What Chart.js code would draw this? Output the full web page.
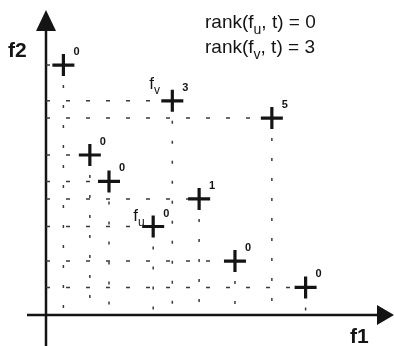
<!DOCTYPE html>
<html>
<head>
<meta charset="utf-8">
<script src="https://cdn.jsdelivr.net/npm/chart.js@4/dist/chart.umd.min.js"></script>
<style>
  body { margin: 0; background: #fff; }
  canvas { display: block; }
</style>
</head>
<body>
<canvas id="myChart" width="394" height="346"></canvas>
<script>
/* Data (arbitrary objective units) */
var f1Values = [0.50, 3.63, 6.49, 1.26, 1.81, 4.40, 3.08, 5.43, 7.46];
var f2Values = [8.25, 7.07, 6.50, 5.28, 4.41, 3.83, 2.92, 1.78, 0.91];
var ranks = [0, 3, 5, 0, 0, 1, 0, 0, 0];
var pointNames = ['', 'v', '', '', '', '', 'u', '', ''];
var rankLines = [['rank(f', 'u', ', t) = 0'], ['rank(f', 'v', ', t) = 3']];
var axisTitles = ['f1', 'f2'];

var ink = '#141414';
var font = 'Liberation Sans, Arial, sans-serif';

var points = f1Values.map(function (x, i) { return { x: x, y: f2Values[i] }; });

// dashed drop lines: horizontal to the f2 axis, vertical to the f1 axis
var dropSets = [];
points.forEach(function (p) {
    dropSets.push({
        data: [{ x: 0, y: p.y }, { x: p.x, y: p.y }],
        showLine: true, pointRadius: 0, borderColor: '#3a3a3a', borderWidth: 1.5,
        borderDash: [4, 16]
    });
    dropSets.push({
        data: [{ x: p.x, y: p.y }, { x: p.x, y: 0 }],
        showLine: true, pointRadius: 0, borderColor: '#3a3a3a', borderWidth: 1.5,
        borderDash: [3, 17]
    });
});

// text with a subscript run in the middle
function drawRuns(c, runs, x, y, size) {
    runs.forEach(function (r, k) {
        var sub = k % 2 === 1;
        c.font = (sub ? Math.round(size * 0.72) : size) + 'px ' + font;
        c.fillText(r, x, sub ? y + size * 0.3 : y);
        x += c.measureText(r).width;
    });
}

var drawingPlugin = {
    id: 'drawing',
    beforeDatasetsDraw: function (chart) {
        var c = chart.ctx, a = chart.chartArea;
        c.save();
        c.strokeStyle = ink; c.fillStyle = ink; c.lineWidth = 2.5;
        // f2 axis with arrow
        c.beginPath(); c.moveTo(a.left, chart.height); c.lineTo(a.left, a.top + 10); c.stroke();
        c.beginPath(); c.moveTo(a.left, a.top - 2); c.lineTo(a.left - 10, a.top + 19); c.lineTo(a.left + 10, a.top + 19); c.closePath(); c.fill();
        // f1 axis with arrow
        c.beginPath(); c.moveTo(a.left - 19, a.bottom); c.lineTo(a.right - 10, a.bottom); c.stroke();
        c.beginPath(); c.moveTo(a.right, a.bottom); c.lineTo(a.right - 17, a.bottom - 10); c.lineTo(a.right - 17, a.bottom + 10); c.closePath(); c.fill();
        c.restore();
    },
    afterDatasetsDraw: function (chart) {
        var c = chart.ctx, a = chart.chartArea;
        var meta = chart.getDatasetMeta(0);
        c.save();
        c.fillStyle = ink;
        c.textBaseline = 'alphabetic';
        meta.data.forEach(function (el, i) {
            c.font = 'bold 11px ' + font;
            c.fillText(String(ranks[i]), el.x + 10, el.y - 10);
            if (pointNames[i] === 'v') drawRuns(c, ['f', 'v'], el.x - 23, el.y - 12, 17);
            if (pointNames[i] === 'u') drawRuns(c, ['f', 'u'], el.x - 20, el.y - 6, 17);
        });
        // legend-like rank text
        drawRuns(c, rankLines[0], 205, 28, 19);
        drawRuns(c, rankLines[1], 205, 53, 19);
        // axis titles
        c.font = 'bold 21px ' + font;
        c.fillText(axisTitles[1], a.left - 38, 57);
        c.fillText(axisTitles[0], 350, 343);
        c.restore();
    }
};

var ctx = document.getElementById('myChart');
var myChart = new Chart(ctx, {
    type: 'scatter',
    data: {
        datasets: [{
            data: points,
            pointStyle: 'cross',
            pointRadius: 11,
            pointBorderWidth: 3.2,
            borderColor: ink,
            backgroundColor: ink
        }].concat(dropSets)
    },
    options: {
        responsive: false,
        animation: false,
        devicePixelRatio: 1,
        layout: { autoPadding: false, padding: { left: 46, right: 0, top: 12, bottom: 31 } },
        scales: {
            x: { type: 'linear', min: 0, max: 10, display: false },
            y: { type: 'linear', min: 0, max: 10, display: false }
        },
        plugins: { legend: { display: false }, tooltip: { enabled: false } }
    },
    plugins: [drawingPlugin]
});
</script>
</body>
</html>
